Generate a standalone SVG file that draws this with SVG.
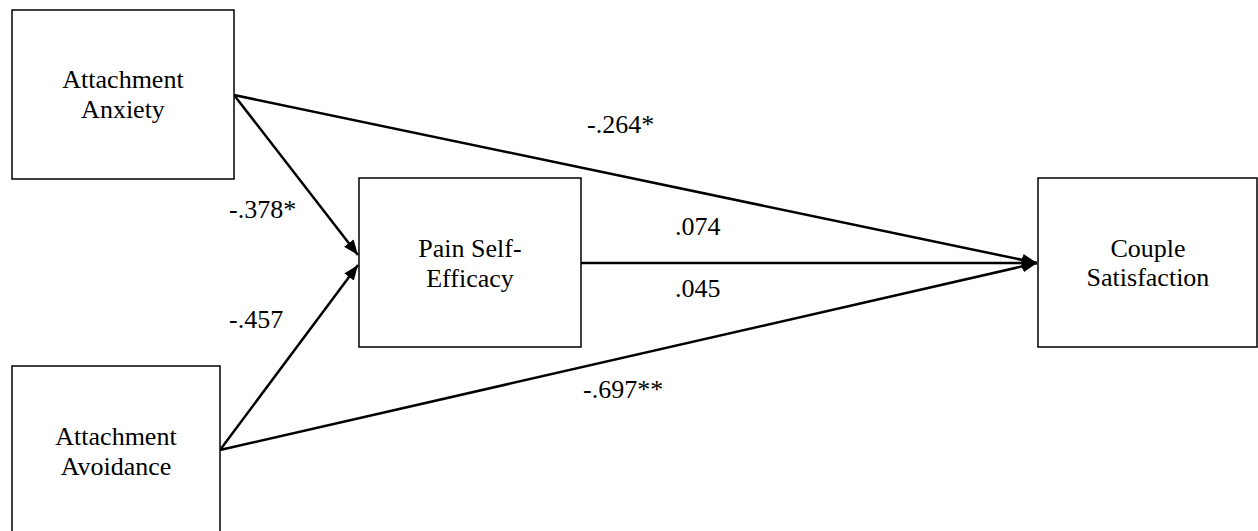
<svg xmlns="http://www.w3.org/2000/svg" width="1258" height="531" viewBox="0 0 1258 531">
<style>
.box{fill:#fff;stroke:#000;stroke-width:1.5}
text{font-family:'Liberation Serif','Times New Roman',Times,serif;font-size:26px;fill:#000}
.c{text-anchor:middle}
.e{fill:none;stroke:#000;stroke-width:2.5}
</style>
<defs>
<marker id="ah" markerUnits="userSpaceOnUse" markerWidth="17" markerHeight="14" refX="15" refY="7" orient="auto">
<path d="M0,1 L15,7 L0,13 z" fill="#000"/>
</marker>
</defs>
<rect width="1258" height="531" fill="#fff"/>
<g id="connectors">
<path class="e" d="M234,95 L1037,263" marker-end="url(#ah)"/>
<path class="e" d="M234,95 L358,255" marker-end="url(#ah)"/>
<path class="e" d="M220,450 L358,265" marker-end="url(#ah)"/>
<path class="e" d="M581,263 L1037,263" marker-end="url(#ah)"/>
<path class="e" d="M220,450 L1037,263" marker-end="url(#ah)"/>
<text x="587" y="133">-.264*</text>
<text x="229" y="218">-.378*</text>
<text x="229" y="328">-.457</text>
<text x="675" y="235">.074</text>
<text x="675" y="297">.045</text>
<text x="583" y="398">-.697**</text>
</g>
<g id="anxiety">
<rect class="box" x="12" y="10" width="222" height="169"/>
<text class="c" x="123" y="88">Attachment</text>
<text class="c" x="123" y="118">Anxiety</text>
</g>
<g id="avoidance">
<rect class="box" x="12" y="366" width="208" height="180"/>
<text class="c" x="116" y="445">Attachment</text>
<text class="c" x="116" y="475">Avoidance</text>
</g>
<g id="pain">
<rect class="box" x="359" y="178" width="222" height="169"/>
<text class="c" x="470" y="257">Pain Self-</text>
<text class="c" x="470" y="287">Efficacy</text>
</g>
<g id="couple">
<rect class="box" x="1038" y="178" width="219" height="169"/>
<text class="c" x="1148" y="257">Couple</text>
<text class="c" x="1148" y="286">Satisfaction</text>
</g>
</svg>
